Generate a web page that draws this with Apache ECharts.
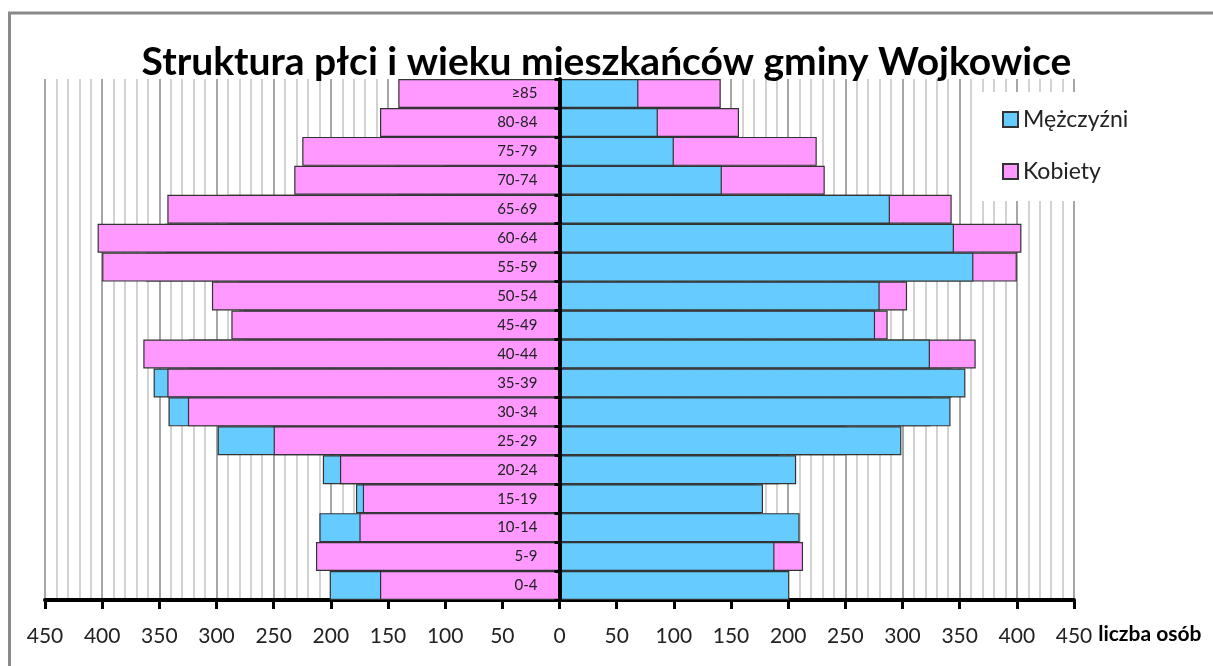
<!DOCTYPE html>
<html>
<head>
<meta charset="utf-8">
<script src="https://cdn.jsdelivr.net/npm/echarts@6/dist/echarts.min.js"></script>
<style>
    html, body { margin: 0; padding: 0; background: #fff; }
    #chart { width: 1213px; height: 666px; }
</style>
</head>
<body>
<div id="chart"></div>
<script>
// age groups, bottom to top
var ageGroups = ['0-4', '5-9', '10-14', '15-19', '20-24', '25-29', '30-34', '35-39', '40-44',
    '45-49', '50-54', '55-59', '60-64', '65-69', '70-74', '75-79', '80-84', '≥85'];
var men   = [201, 188, 210, 178, 207, 299, 342, 355, 324, 276, 280, 362, 345, 289, 142, 100, 86, 69];
var women = [157, 213, 175, 172, 192, 250, 325, 343, 364, 287, 304, 400, 404, 343, 232, 225, 157, 141];

var xTicks = [-450, -400, -350, -300, -250, -200, -150, -100, -50, 0, 50, 100, 150, 200, 250, 300, 350, 400, 450];

var BLUE = '#66ccff', PINK = '#ff99ff';

function neg(arr) {
    return arr.map(function (v) { return -v; });
}

var chart = echarts.init(document.getElementById('chart'));

function barSeries(name, color, data) {
    return {
        name: name,
        type: 'bar',
        data: data,
        barGap: '-100%',
        barCategoryGap: 0,
        itemStyle: { color: color, borderColor: '#333', borderWidth: 1.2 }
    };
}

// women on the left carry the age group names next to the zero line
var womenLeft = barSeries('Kobiety', PINK, neg(women));
womenLeft.label = {
    show: true,
    position: 'insideRight',
    distance: 22,
    fontFamily: 'Lato',
    fontSize: 15,
    color: '#222',
    formatter: function (p) { return p.name; }
};

var option = {
    animation: false,
    textStyle: { fontFamily: 'Lato' },
    title: {
        text: 'Struktura płci i wieku mieszkańców gminy Wojkowice',
        left: 'center',
        top: 38,
        textStyle: { fontFamily: 'Lato', fontWeight: 'bold', fontSize: 39, color: '#000' }
    },
    legend: {
        data: ['Mężczyźni', 'Kobiety'],
        orient: 'vertical',
        left: 977,
        top: 92,
        padding: [16, 40, 18, 25],
        itemGap: 29,
        itemWidth: 15,
        itemHeight: 15,
        icon: 'rect',
        backgroundColor: '#fff',
        textStyle: { fontFamily: 'Lato', fontSize: 23, color: '#222' }
    },
    graphic: [{
        type: 'rect',
        shape: { x: 9.5, y: 13, width: 1400, height: 800 },
        style: { fill: 'none', stroke: '#8a8a8a', lineWidth: 3 },
        silent: true
    }],
    grid: { left: 45, right: 139, top: 79, bottom: 66, outerBoundsMode: 'none' },
    xAxis: {
        type: 'value',
        min: xTicks[0],
        max: xTicks[xTicks.length - 1],
        interval: 50,
        name: 'liczba osób',
        nameLocation: 'end',
        nameGap: 14,
        nameTextStyle: {
            fontFamily: 'Lato', fontWeight: 'bold', fontSize: 21, color: '#000',
            align: 'left', verticalAlign: 'top', padding: [24, 0, 0, 0]
        },
        axisLine: { show: true, onZero: false, lineStyle: { color: '#000', width: 4 } },
        axisTick: { show: true, length: 9, lineStyle: { color: '#000', width: 3 } },
        axisLabel: {
            margin: 26,
            fontSize: 21,
            color: '#222',
            formatter: function (v) { return Math.abs(v); }
        },
        splitLine: { show: true, lineStyle: { color: '#a6a6a6', width: 2 } },
        minorTick: { show: false, splitNumber: 5 },
        minorSplitLine: { show: true, lineStyle: { color: '#d2d2d2', width: 2 } }
    },
    yAxis: {
        type: 'category',
        data: ageGroups,
        axisLine: { show: true, onZero: true, lineStyle: { color: '#000', width: 4 } },
        axisTick: { show: true, length: 5, lineStyle: { color: '#000', width: 3 } },
        axisLabel: { show: false },
        splitLine: { show: false },
        z: 10
    },
    series: [
        barSeries('Mężczyźni', BLUE, neg(men)),
        barSeries('Kobiety', PINK, women),
        womenLeft,
        barSeries('Mężczyźni', BLUE, men)
    ]
};

chart.setOption(option);
</script>
</body>
</html>
